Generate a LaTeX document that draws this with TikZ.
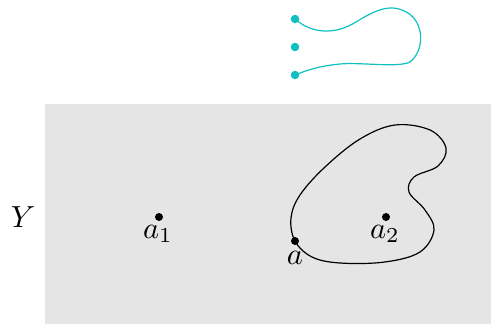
\documentclass[tikz,border=0pt]{standalone}
\usepackage{graphicx}
\definecolor{regiongray}{RGB}{229,229,229}
\definecolor{pathcyan}{RGB}{16,192,192}
\newcommand{\biglabel}[1]{\scalebox{3.05}{$#1$}}
\begin{document}
\begin{tikzpicture}[x=1pt,y=-1pt,
  pt/.style={circle,fill=black,inner sep=0pt,minimum size=8pt},
  cpt/.style={circle,fill=pathcyan,inner sep=0pt,minimum size=8.5pt},
  lbl/.style={inner sep=0pt}]
\useasboundingbox (0,0) rectangle (491,324);
% the space Y
\fill[regiongray] (45,104) rectangle (491,324);
\node[lbl] (Y) at (23,217.5) {\biglabel{Y}};

% base points
\node[pt] (a1) at (159,217) {};
\node[lbl,anchor=north] (a1l) at ([xshift=-1pt,yshift=-8pt]a1.center) {\biglabel{a_1}};
\node[pt] (a2) at (386,217) {};
\node[lbl,anchor=north] (a2l) at ([xshift=-1pt,yshift=-8pt]a2.center) {\biglabel{a_2}};

% loop through a
\draw[line width=1.2pt] plot[smooth cycle,tension=0.6] coordinates {
  (295,241) (291,218) (300,195) (325,167) (360,139) (395,125)
  (430,130) (446,148) (438,166) (414,177) (409,192) (425,210)
  (434,230) (420,252) (385,262) (340,263) (312,257)};
\node[pt] (a) at (295,241) {};
\node[lbl,anchor=north] (al) at ([yshift=-10pt]a.center) {\biglabel{a}};

% cyan path above
\node[cpt] (c1) at (295,19) {};
\node[cpt] (c2) at (295,47) {};
\node[cpt] (c3) at (295,75) {};
\draw[pathcyan,line width=1.2pt] (c1.center)
  .. controls (312,34) and (335,35) .. (356,22)
  .. controls (377,9) and (392,3) .. (408,13)
  .. controls (424,23) and (425,50) .. (410,62)
  .. controls (398,68) and (360,62) .. (340,64)
  .. controls (318,66) and (305,71) .. (c3.center);
\end{tikzpicture}
\end{document}
